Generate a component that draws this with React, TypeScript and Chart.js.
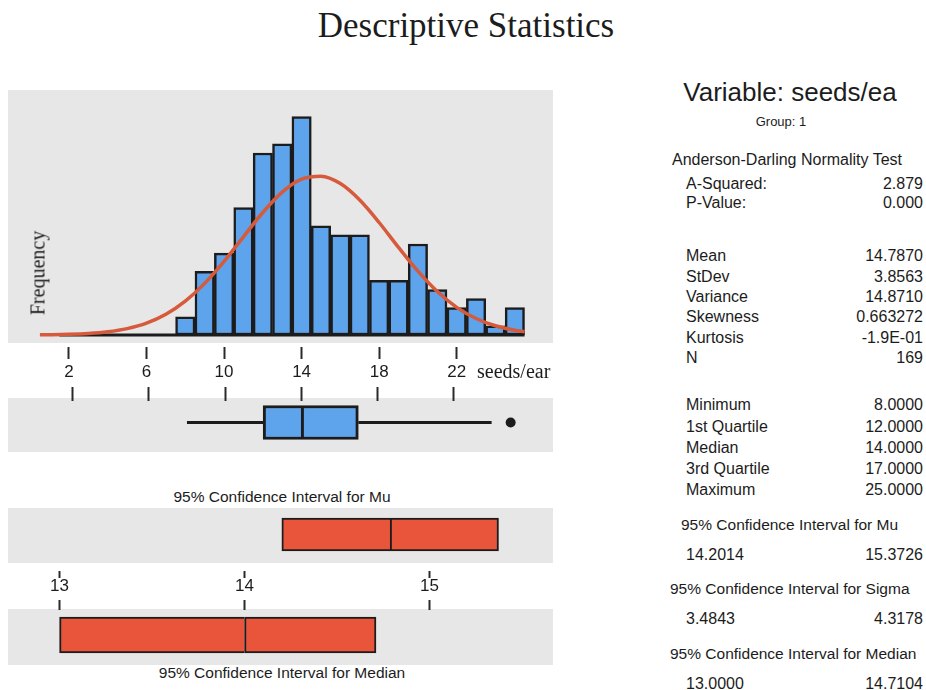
import React, { useEffect, useRef } from "react";
import { Chart, registerables } from "chart.js";

Chart.register(...registerables);

// ---- data: seeds per ear, n = 169 ----
const binCenters = [8, 9, 10, 11, 12, 13, 14, 15, 16, 17, 18, 19, 20, 21, 22, 23, 24, 25];
const binCounts = [2, 7, 9, 14, 20, 21, 24, 12, 11, 11, 6, 6, 10, 5, 3, 4, 1, 3];

// fitted normal curve (expected counts per unit bin)
const curveX = [0.5, 1, 2, 3, 4, 5, 6, 7, 8, 9, 10, 11, 12, 13, 14, 15, 16, 17, 18, 19, 20, 21, 22, 23, 24, 25, 25.5];
const curveY = [0.02, 0.03, 0.07, 0.16, 0.35, 0.7, 1.3, 2.28, 3.72, 5.67, 8.09, 10.79, 13.46, 15.7, 17.12, 17.45, 16.64, 14.83, 12.36, 9.62, 7.01, 4.77, 3.04, 1.81, 1.01, 0.52, 0.37];

const histTicks = [2, 6, 10, 14, 18, 22];

// summary statistics
const adLabels = ["A-Squared:", "P-Value:"];
const adValues = ["2.879", "0.000"];
const momentLabels = ["Mean", "StDev", "Variance", "Skewness", "Kurtosis", "N"];
const meanValue = 14.787;
const momentValues = [meanValue.toFixed(4), "3.8563", "14.8710", "0.663272", "-1.9E-01", "169"];
const quantileLabels = ["Minimum", "1st Quartile", "Median", "3rd Quartile", "Maximum"];
const quantileValues = [8, 12, 14, 17, 25];
const upperWhisker = 24;
const outliers = [25];

const muCI = [14.2014, 15.3726];
const sigmaCI = [3.4843, 4.3178];
const medianCI = [13.0, 14.7104];
const ciTicks = [13, 14, 15];

// ---- styling ----
const SANS = '"Liberation Sans", Arial, Helvetica, sans-serif';
const SERIF = '"Liberation Serif", "Times New Roman", Times, serif';
const INK = "#1c1c1c";
const BAR_FILL = "#5ea4ec";
const CURVE = "#d65a3c";
const CI_FILL = "#e8553a";
const PANEL = "#e7e7e7";

const HIST_MIN = -1.558;
const HIST_MAX = 27.33;
const CI_MIN = 12.678;
const CI_MAX = 15.705;

const baseOptions = {
  responsive: false,
  animation: false as const,
  events: [] as any[],
  layout: { padding: 0 },
  plugins: { legend: { display: false }, tooltip: { enabled: false }, title: { display: false } },
};

function xAxis(
  min: number,
  max: number,
  ticks: number[],
  position: "top" | "bottom",
  height: number,
  tickLength: number,
  showLabels: boolean,
  padding = 0
) {
  return {
    type: "linear" as const,
    position,
    min,
    max,
    offset: false,
    afterBuildTicks: (s: any) => {
      s.ticks = ticks.map((v) => ({ value: v }));
    },
    afterFit: (s: any) => {
      s.height = height;
    },
    grid: { drawOnChartArea: false, drawTicks: true, tickLength, tickWidth: 2, tickColor: "#2a2a2a", offset: false },
    border: { display: false },
    ticks: {
      display: showLabels,
      color: INK,
      font: { family: SANS, size: 17, lineHeight: 1 },
      padding,
      maxRotation: 0,
      autoSkip: false,
    },
  };
}

type TxtProps = {
  x: number;
  y: number;
  text: string;
  size: number;
  font?: string;
  align?: "left" | "right" | "center";
  spacing?: number;
};

function Txt({ x, y, text, size, font = SANS, align = "left", spacing = 0 }: TxtProps) {
  const style: React.CSSProperties = {
    position: "absolute",
    top: y - size * 0.6,
    fontFamily: font,
    fontSize: size,
    lineHeight: `${size * 1.2}px`,
    whiteSpace: "nowrap",
    color: INK,
    letterSpacing: spacing,
  };
  if (align === "left") style.left = x;
  else if (align === "right") style.right = 926 - x;
  else {
    style.left = x;
    style.transform = "translateX(-50%)";
  }
  return <div style={style}>{text}</div>;
}

function Panel({ top, height }: { top: number; height: number }) {
  return <div style={{ position: "absolute", left: 8, top, width: 545, height, background: PANEL }} />;
}

export default function App() {
  const histRef = useRef<HTMLCanvasElement>(null);
  const boxRef = useRef<HTMLCanvasElement>(null);
  const muRef = useRef<HTMLCanvasElement>(null);
  const medRef = useRef<HTMLCanvasElement>(null);

  useEffect(() => {
    const charts: Chart[] = [];

    // histogram with fitted normal curve
    charts.push(
      new Chart(histRef.current!, {
        type: "bar",
        data: {
          datasets: [
            {
              type: "line",
              data: curveX.map((x, i) => ({ x, y: curveY[i] })),
              borderColor: CURVE,
              borderWidth: 3.5,
              pointRadius: 0,
              cubicInterpolationMode: "monotone",
              order: 0,
            } as any,
            {
              type: "line",
              data: [
                { x: 1.5, y: 0 },
                { x: 25.5, y: 0 },
              ],
              borderColor: INK,
              borderWidth: 3,
              pointRadius: 0,
              order: 1,
            } as any,
            {
              type: "bar",
              data: binCenters.map((x, i) => ({ x, y: binCounts[i] })),
              backgroundColor: BAR_FILL,
              borderColor: INK,
              borderWidth: 2.5,
              borderSkipped: false,
              barPercentage: 1,
              categoryPercentage: 1,
              order: 2,
            } as any,
          ],
        },
        options: {
          ...baseOptions,
          scales: {
            x: xAxis(HIST_MIN, HIST_MAX, histTicks, "bottom", 53, 12, true, 5),
            y: { type: "linear", display: false, min: -1.32, max: 26.92 },
          },
        } as any,
      })
    );

    // box plot on the same scale
    const [qMin, q1, qMed, q3] = quantileValues;
    charts.push(
      new Chart(boxRef.current!, {
        type: "bar",
        data: {
          datasets: [
            {
              type: "bar",
              indexAxis: "y",
              data: [
                { x: [q1, qMed], y: 0 },
                { x: [qMed, q3], y: 0 },
              ],
              backgroundColor: BAR_FILL,
              borderColor: INK,
              borderWidth: (c: any) => (c.dataIndex === 0 ? { top: 3, bottom: 3, left: 3, right: 0 } : 3),
              borderSkipped: false,
              barThickness: 34,
              order: 0,
            } as any,
            {
              type: "line",
              data: [
                { x: qMin, y: 0 },
                { x: q1, y: 0 },
              ],
              borderColor: INK,
              borderWidth: 3,
              pointRadius: 0,
              order: 1,
            } as any,
            {
              type: "line",
              data: [
                { x: q3, y: 0 },
                { x: upperWhisker, y: 0 },
              ],
              borderColor: INK,
              borderWidth: 3,
              pointRadius: 0,
              order: 1,
            } as any,
            {
              type: "line",
              data: outliers.map((x) => ({ x, y: 0 })),
              showLine: false,
              pointRadius: 5,
              pointBackgroundColor: INK,
              pointBorderWidth: 0,
              order: 1,
            } as any,
          ],
        },
        options: {
          ...baseOptions,
          scales: {
            x: xAxis(HIST_MIN, HIST_MAX, histTicks, "top", 14, 14, false),
            y: { type: "linear", display: false, min: -1, max: 1, offset: false },
          },
        } as any,
      })
    );

    // confidence interval boxes
    const ciChart = (
      canvas: HTMLCanvasElement,
      ci: number[],
      center: number,
      position: "top" | "bottom",
      axisH: number,
      tickL: number,
      labels: boolean,
      yMin: number,
      thick: number
    ) =>
      new Chart(canvas, {
        type: "bar",
        data: {
          datasets: [
            {
              type: "bar",
              indexAxis: "y",
              data: [
                { x: [ci[0], center], y: 0 },
                { x: [center, ci[1]], y: 0 },
              ],
              backgroundColor: CI_FILL,
              borderColor: INK,
              borderWidth: (c: any) => (c.dataIndex === 0 ? { top: 2, bottom: 2, left: 2, right: 0 } : 2),
              borderSkipped: false,
              barThickness: thick,
            } as any,
          ],
        },
        options: {
          ...baseOptions,
          scales: {
            x: xAxis(CI_MIN, CI_MAX, ciTicks, position, axisH, tickL, labels, 0),
            y: { type: "linear", display: false, min: yMin, max: 1, offset: false },
          },
        } as any,
      });

    charts.push(ciChart(muRef.current!, muCI, meanValue, "bottom", 28, 7, true, -1.28, 33));
    charts.push(ciChart(medRef.current!, medianCI, quantileValues[2], "top", 10, 10, false, -1, 36));

    return () => charts.forEach((c) => c.destroy());
  }, []);

  const canvasStyle = (top: number, h: number): React.CSSProperties => ({
    position: "absolute",
    left: 0,
    top,
    width: 560,
    height: h,
  });

  const statRows: React.ReactNode[] = [];
  adLabels.forEach((l, i) => {
    statRows.push(<Txt key={"al" + i} x={686} y={184 + i * 19} text={l} size={16} />);
    statRows.push(<Txt key={"av" + i} x={923} y={184 + i * 19} text={adValues[i]} size={16} align="right" />);
  });
  momentLabels.forEach((l, i) => {
    statRows.push(<Txt key={"ml" + i} x={686} y={256 + i * 20.3} text={l} size={16} />);
    statRows.push(<Txt key={"mv" + i} x={923} y={256 + i * 20.3} text={momentValues[i]} size={16} align="right" />);
  });
  quantileLabels.forEach((l, i) => {
    statRows.push(<Txt key={"ql" + i} x={686} y={405 + i * 21.2} text={l} size={16} />);
    statRows.push(<Txt key={"qv" + i} x={923} y={405 + i * 21.2} text={quantileValues[i].toFixed(4)} size={16} align="right" />);
  });
  const ciRows = [
    { title: "95% Confidence Interval for Mu", lo: muCI[0], hi: muCI[1], tx: 681, y: 525 },
    { title: "95% Confidence Interval for Sigma", lo: sigmaCI[0], hi: sigmaCI[1], tx: 670, y: 589 },
    { title: "95% Confidence Interval for Median", lo: medianCI[0], hi: medianCI[1], tx: 670, y: 654 },
  ];
  ciRows.forEach((r, i) => {
    statRows.push(<Txt key={"ct" + i} x={r.tx} y={r.y} text={r.title} size={15.5} />);
    statRows.push(<Txt key={"cl" + i} x={686} y={r.y + 30} text={r.lo.toFixed(4)} size={16} />);
    statRows.push(<Txt key={"ch" + i} x={923} y={r.y + 30} text={r.hi.toFixed(4)} size={16} align="right" />);
  });

  return (
    <div style={{ position: "absolute", left: 0, top: 0, width: 926, height: 690, background: "#fff", overflow: "hidden" }}>
      <Txt x={466} y={26} text="Descriptive Statistics" size={35} font={SERIF} align="center" />

      <Panel top={90} height={253} />
      <Panel top={398} height={54} />
      <Panel top={508} height={55} />
      <Panel top={609} height={56} />

      <canvas ref={histRef} width={560} height={310} style={canvasStyle(90, 310)} />
      <canvas ref={boxRef} width={560} height={62} style={canvasStyle(387, 62)} />
      <canvas ref={muRef} width={560} height={93} style={canvasStyle(506, 93)} />
      <canvas ref={medRef} width={560} height={60} style={canvasStyle(600, 60)} />

      <div
        style={{
          position: "absolute",
          left: 38,
          top: 273,
          transform: "translate(-50%, -50%) rotate(-90deg)",
          fontFamily: SERIF,
          fontSize: 20,
          color: INK,
          whiteSpace: "nowrap",
        }}
      >
        Frequency
      </div>
      <Txt x={477} y={371} text="seeds/ear" size={20} font={SERIF} />

      <Txt x={282} y={497} text="95% Confidence Interval for Mu" size={15.5} align="center" />
      <Txt x={282} y={673} text="95% Confidence Interval for Median" size={15.5} align="center" />

      <Txt x={790} y={93} text="Variable: seeds/ea" size={26} align="center" />
      <Txt x={781} y={122} text="Group: 1" size={13} align="center" />
      <Txt x={672} y={160} text="Anderson-Darling Normality Test" size={16} />
      {statRows}
    </div>
  );
}
